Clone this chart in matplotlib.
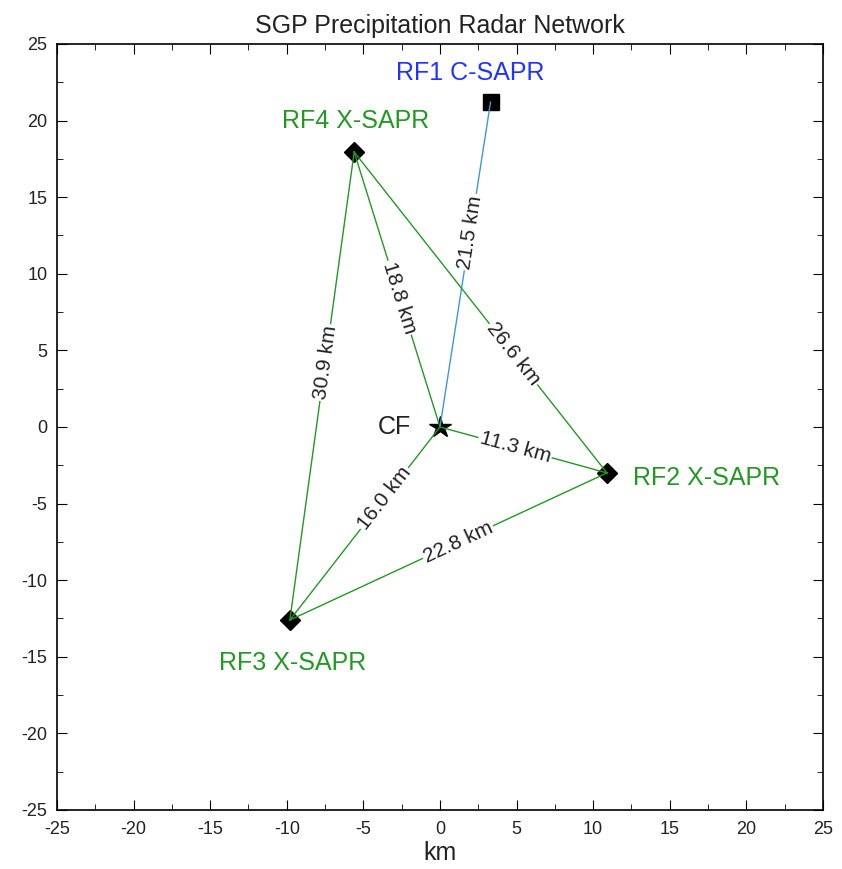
import numpy as np
import matplotlib
matplotlib.use('Agg')
from matplotlib import pyplot as plt

plt.rcParams['font.family'] = ['Liberation Sans', 'DejaVu Sans']
plt.rcParams['axes.unicode_minus'] = False

# radar sites (km from CF)
names = ['CF', 'RF1 C-SAPR', 'RF2 X-SAPR', 'RF3 X-SAPR', 'RF4 X-SAPR']
site_x = [0.0, 3.3, 10.9, -9.8, -5.6]
site_y = [0.0, 21.2, -3.0, -12.6, 17.95]

# links between sites and their distance labels
links = [(0, 1), (0, 4), (0, 2), (0, 3), (4, 3), (4, 2), (3, 2)]
link_lbl = ['21.5 km', '18.8 km', '11.3 km', '16.0 km', '30.9 km', '26.6 km', '22.8 km']
link_pos = [0.6, 0.47, 0.45, 0.37, 0.45, 0.63, 0.53]
link_col = ['#3a9ad9', 'g', 'g', 'g', 'g', 'g', 'g']

green = '#229922'
dark = '#222222'

fig = plt.figure(figsize=(8.42, 8.69), dpi=100)
ax = fig.add_axes([0.0677, 0.0679, 0.9097, 0.8815])

for (a, b), lbl, f, c in zip(links, link_lbl, link_pos, link_col):
    xa, ya, xb, yb = site_x[a], site_y[a], site_x[b], site_y[b]
    col = green if c == 'g' else c
    ax.plot([xa, xb], [ya, yb], color=col, lw=1, zorder=3)
    ang = np.degrees(np.arctan2(yb - ya, xb - xa))
    if ang > 90:
        ang -= 180
    if ang <= -90:
        ang += 180
    ax.text(xa + f * (xb - xa), ya + f * (yb - ya), lbl,
            rotation=ang, rotation_mode='anchor', ha='center', va='center',
            fontsize=15, color=dark, zorder=4,
            bbox=dict(fc='white', ec='none', pad=1))

ax.plot(site_x[0], site_y[0], marker='*', color='k', ms=16, zorder=2)
ax.plot(site_x[1], site_y[1], marker='s', color='k', ms=11, zorder=2)
ax.plot(site_x[2:], site_y[2:], 'D', color='k', ms=10, lw=0, zorder=2)

ax.text(-1.9, 0.0, 'CF', ha='right', va='center', fontsize=18, color=dark)
ax.text(2.0, 23.1, 'RF1 C-SAPR', ha='center', va='center', fontsize=18, color='#2233ff')
ax.text(12.6, -3.3, 'RF2 X-SAPR', ha='left', va='center', fontsize=18, color=green)
ax.text(-9.6, -15.4, 'RF3 X-SAPR', ha='center', va='center', fontsize=18, color=green)
ax.text(-5.5, 20.0, 'RF4 X-SAPR', ha='center', va='center', fontsize=18, color=green)

ax.set_xlim(-25, 25)
ax.set_ylim(-25, 25)
ax.set_xticks(np.arange(-25, 26, 5))
ax.set_yticks(np.arange(-25, 26, 5))
ax.set_xticks(np.arange(-25, 26, 2.5), minor=True)
ax.set_yticks(np.arange(-25, 26, 2.5), minor=True)
ax.tick_params(which='both', direction='in', top=True, right=True,
               labelsize=13, labelcolor=dark)
ax.tick_params(which='major', length=7)
ax.tick_params(which='minor', length=4)
ax.tick_params(axis='x', pad=8)
ax.tick_params(axis='y', pad=7)
for s in ax.spines.values():
    s.set_linewidth(1.2)
ax.set_xlabel('km', fontsize=18, labelpad=2, color=dark)
ax.set_title('SGP Precipitation Radar Network', fontsize=18, pad=8, color=dark)

fig.savefig('out.png', dpi=100)
